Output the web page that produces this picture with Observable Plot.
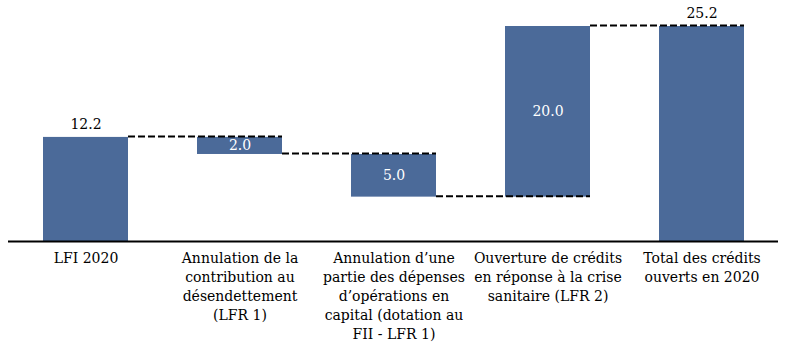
<!DOCTYPE html>
<html>
<head>
<meta charset="utf-8">
<script src="https://cdn.jsdelivr.net/npm/d3@7"></script>
<script src="https://cdn.jsdelivr.net/npm/@observablehq/plot@0.6"></script>
<style>
  html, body { margin: 0; padding: 0; background: #fff; }
  #chart svg { display: block; }
  #chart svg, #chart svg text { font-family: "DejaVu Serif", serif !important; }
</style>
</head>
<body>
<div id="chart"></div>
<script>
const categories = [
  "LFI 2020",
  "Annulation de la\ncontribution au\ndésendettement\n(LFR 1)",
  "Annulation d’une\npartie des dépenses\nd’opérations en\ncapital (dotation au\nFII - LFR 1)",
  "Ouverture de crédits\nen réponse à la crise\nsanitaire (LFR 2)",
  "Total des crédits\nouverts en 2020"
];
const values = [12.2, -2.0, -5.0, 20.0, 25.2];
const kinds = ["total", "delta", "delta", "delta", "total"];
const labels = ["12.2", "2.0", "5.0", "20.0", "25.2"];

let running = 0;
const rows = categories.map((c, i) => {
  let y1, y2;
  if (kinds[i] === "total") { y1 = 0; y2 = values[i]; running = values[i]; }
  else { y1 = running; y2 = running + values[i]; running = y2; }
  return {cat: c, y1, y2, hi: Math.max(y1, y2), kind: kinds[i], label: labels[i], end: kinds[i] === "total" ? values[i] : y2};
});
const links = rows.slice(0, -1).map((r, i) => ({a: r.cat, b: rows[i + 1].cat, level: r.end}));

const font = "DejaVu Serif";
const barColor = "#4b6a99";

const chart = Plot.plot({
  width: 786,
  height: 353,
  marginTop: 26,
  marginBottom: 112,
  marginLeft: 8,
  marginRight: 8,
  style: {fontFamily: font, fontSize: "14px", color: "#000", background: "#fff"},
  x: {domain: categories, paddingInner: 0.45, paddingOuter: 0.225, label: null},
  y: {domain: [0, 25.2], axis: null},
  marks: [
    Plot.barY(rows, {x: "cat", y1: "y1", y2: "y2", fill: barColor}),
    Plot.ruleY(links, {x1: "a", x2: "b", y: "level", stroke: "#000", strokeWidth: 2, strokeDasharray: "7,3", insetLeft: 85, dy: -1}),
    Plot.ruleY([0], {stroke: "#000", strokeWidth: 2}),
    Plot.text(rows.filter(d => d.kind === "total"), {x: "cat", y: "hi", text: "label", dy: -13, fill: "#000", fontSize: 14, fontFamily: font}),
    Plot.text(rows.filter(d => d.kind === "delta"), {x: "cat", y: d => (d.y1 + d.y2) / 2, text: "label", fill: "#fff", fontSize: 14, fontFamily: font}),
    Plot.axisX({tickSize: 0, tickPadding: 8, fontSize: 14, lineHeight: 1.36, fontFamily: font, tickFormat: d => d, label: null})
  ]
});
document.getElementById("chart").appendChild(chart);
</script>
</body>
</html>
